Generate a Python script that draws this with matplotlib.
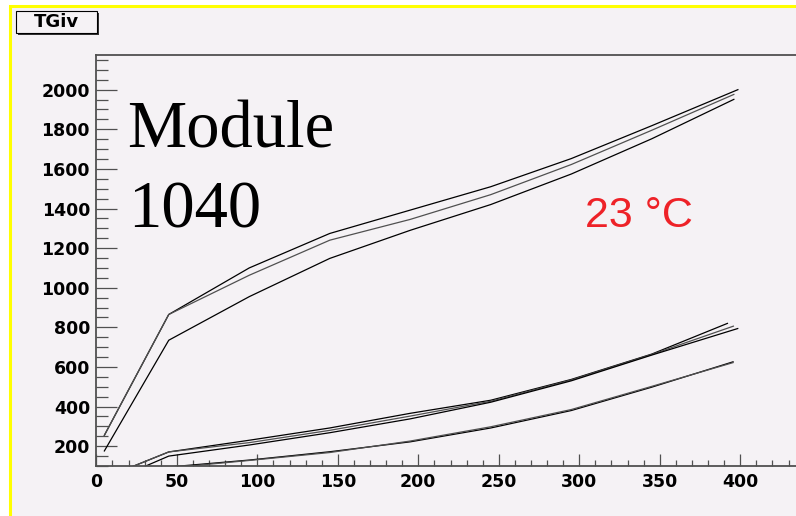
import matplotlib.pyplot as plt
from matplotlib.patches import Rectangle
from matplotlib.ticker import MultipleLocator

# bias voltage points (last point differs a little per channel)
bias = [5, 45, 95, 145, 195, 245, 295, 345]

# upper group
ch_a = [255, 865, 1100, 1274, 1392, 1510, 1652, 1818, 2000]
ch_b = [255, 865, 1063, 1240, 1345, 1470, 1622, 1795, 1976]
ch_c = [176, 735, 955, 1148, 1290, 1420, 1574, 1752, 1951]
# middle group
ch_d = [40, 171, 230, 292, 366, 432, 537, 665, 820]
ch_e = [40, 171, 218, 280, 352, 427, 534, 663, 806]
ch_f = [10, 150, 206, 268, 338, 422, 530, 660, 794]
# lower group
ch_g = [20, 95, 130, 172, 222, 292, 380, 498, 626]
ch_h = [10, 90, 128, 168, 226, 298, 385, 502, 622]

last_bias = [398.5, 396, 396, 392, 395.7, 398.4, 395.5, 395.5]
channels = [ch_a, ch_b, ch_c, ch_d, ch_e, ch_f, ch_g, ch_h]
colors = ['black', '#505050', 'black', 'black', '#505050', 'black', 'black', '#505050']

W, H = 796, 516
bg = '#f5f2f5'
axcol = '#505050'

fig = plt.figure(figsize=(W / 100, H / 100), dpi=100, facecolor='white')

# canvas with yellow border
fig.add_artist(Rectangle((9.5 / W, -0.1), 1.2, 1 - 5.5 / H + 0.1, transform=fig.transFigure,
                         facecolor=bg, edgecolor='#ffff00', lw=2.2, zorder=-1))

ax = fig.add_axes([96.3 / W, (H - 466) / H, (804.7 - 96.3) / W, 411 / H])
ax.set_facecolor('none')

for xs_end, ys, c in zip(last_bias, channels, colors):
    ax.plot(bias + [xs_end], ys, color=c, lw=0.9)

ax.set_xlim(0, 440)
ax.set_ylim(100, 2175)
ax.xaxis.set_major_locator(MultipleLocator(50))
ax.xaxis.set_minor_locator(MultipleLocator(10))
ax.yaxis.set_major_locator(MultipleLocator(200))
ax.yaxis.set_minor_locator(MultipleLocator(50))

for s in ['left', 'bottom', 'top']:
    ax.spines[s].set_color(axcol)
    ax.spines[s].set_linewidth(1.3)
ax.spines['right'].set_visible(False)

ax.tick_params(axis='x', which='major', direction='in', length=9, width=0.9, color=axcol, pad=5)
ax.tick_params(axis='x', which='minor', direction='in', length=4, width=0.9, color=axcol)
ax.tick_params(axis='y', which='major', direction='in', length=15, width=0.9, color=axcol, pad=4.5)
ax.tick_params(axis='y', which='minor', direction='in', length=8.5, width=0.9, color=axcol)
for lab in ax.get_xticklabels() + ax.get_yticklabels():
    lab.set_fontfamily('DejaVu Sans')
    lab.set_fontweight('bold')
    lab.set_fontsize(12.5)

# title box
fig.add_artist(Rectangle((17.5 / W, 1 - 35 / H), 81 / W, 22 / H, transform=fig.transFigure,
                         facecolor='#333333', edgecolor='none', zorder=2))
fig.add_artist(Rectangle((16 / W, 1 - 33 / H), 81 / W, 22 / H, transform=fig.transFigure,
                         facecolor=bg, edgecolor='black', lw=0.8, zorder=3))
fig.text(56.5 / W, 1 - 22 / H, 'TGiv', ha='center', va='center', family='DejaVu Sans',
         fontweight='bold', fontsize=13, zorder=4)

fig.text(127 / W, 1 - 147 / H, 'Module', family='Liberation Serif', fontsize=48, va='baseline')
fig.text(128 / W, 1 - 227 / H, '1040', family='Liberation Serif', fontsize=48, va='baseline')
fig.text(585 / W, 1 - 227 / H, '23 °C', family='Liberation Sans', fontsize=31, color='#ee2228',
         va='baseline')

fig.savefig('out.png', dpi=100)
